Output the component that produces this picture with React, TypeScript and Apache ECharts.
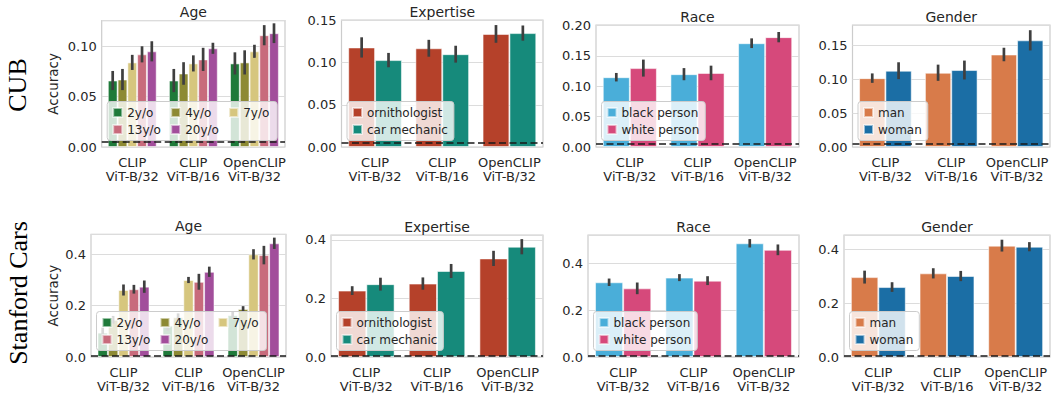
import React, { useEffect, useRef } from "react";
import * as echarts from "echarts";

// ---------- data ----------
const models = ["CLIP\nViT-B/32", "CLIP\nViT-B/16", "OpenCLIP\nViT-B/32"];

const ageGroups = ["2y/o", "4y/o", "7y/o", "13y/o", "20y/o"];
const expertiseGroups = ["ornithologist", "car mechanic"];
const raceGroups = ["black person", "white person"];
const genderGroups = ["man", "woman"];

const ageColors = ["#1f7a3a", "#8d8a34", "#d6c67e", "#c86b7c", "#a24e9b"];
const expertiseColors = ["#b5412a", "#168a7b"];
const raceColors = ["#4aaed9", "#d6497b"];
const genderColors = ["#d87b4a", "#1b6ea5"];

// CUB (rows = groups, columns = models)
const cubAge = [
  [0.066, 0.066, 0.083],
  [0.067, 0.073, 0.084],
  [0.084, 0.083, 0.095],
  [0.092, 0.087, 0.111],
  [0.095, 0.098, 0.113],
];
const cubAgeErr = [
  [0.0095, 0.0115, 0.011],
  [0.0105, 0.0112, 0.012],
  [0.0075, 0.008, 0.0065],
  [0.008, 0.0115, 0.01],
  [0.01, 0.0055, 0.0098],
];
const cubExpertise = [
  [0.118, 0.117, 0.134],
  [0.103, 0.11, 0.135],
];
const cubExpertiseErr = [
  [0.012, 0.01, 0.0105],
  [0.0085, 0.01, 0.009],
];
const cubRace = [
  [0.115, 0.12, 0.171],
  [0.13, 0.122, 0.181],
];
const cubRaceErr = [
  [0.007, 0.01, 0.008],
  [0.014, 0.012, 0.0085],
];
const cubGender = [
  [0.102, 0.11, 0.137],
  [0.113, 0.114, 0.158],
];
const cubGenderErr = [
  [0.007, 0.012, 0.01],
  [0.0125, 0.014, 0.015],
];

// Stanford Cars
const carsAge = [
  [0.095, 0.122, 0.163],
  [0.145, 0.155, 0.187],
  [0.261, 0.3, 0.4],
  [0.264, 0.293, 0.397],
  [0.274, 0.332, 0.443],
];
const carsAgeErr = [
  [0.02, 0.02, 0.015],
  [0.015, 0.015, 0.011],
  [0.0215, 0.012, 0.02],
  [0.017, 0.031, 0.036],
  [0.024, 0.02, 0.022],
];
const carsExpertise = [
  [0.227, 0.251, 0.337],
  [0.249, 0.294, 0.377],
];
const carsExpertiseErr = [
  [0.015, 0.021, 0.026],
  [0.022, 0.024, 0.026],
];
const carsRace = [
  [0.32, 0.34, 0.487],
  [0.294, 0.327, 0.459],
];
const carsRaceErr = [
  [0.016, 0.015, 0.018],
  [0.025, 0.019, 0.023],
];
const carsGender = [
  [0.297, 0.311, 0.414],
  [0.26, 0.301, 0.41],
];
const carsGenderErr = [
  [0.024, 0.019, 0.022],
  [0.018, 0.019, 0.017],
];

const cubChance = 1 / 200;
const carsChance = 1 / 196;

// ---------- layout ----------
const W = 1053;
const H = 395;
const TEXT = "#262626";
const FONT = "DejaVu Sans";

type Panel = {
  title: string;
  groups: string[];
  colors: string[];
  values: number[][];
  errs: number[][];
  chance: number;
  left: number;
  right: number;
  top: number;
  bottom: number;
  max: number;
  interval: number;
  decimals: number;
  isAge: boolean;
};

const panels: Panel[] = [
  { title: "Age", groups: ageGroups, colors: ageColors, values: cubAge, errs: cubAgeErr, chance: cubChance,
    left: 101.7, right: 285, top: 20.7, bottom: 147, max: 0.1254, interval: 0.05, decimals: 2, isAge: true },
  { title: "Expertise", groups: expertiseGroups, colors: expertiseColors, values: cubExpertise, errs: cubExpertiseErr, chance: cubChance,
    left: 341.5, right: 543, top: 20, bottom: 147, max: 0.1505, interval: 0.05, decimals: 2, isAge: false },
  { title: "Race", groups: raceGroups, colors: raceColors, values: cubRace, errs: cubRaceErr, chance: cubChance,
    left: 596, right: 799, top: 25, bottom: 147, max: 0.201, interval: 0.05, decimals: 2, isAge: false },
  { title: "Gender", groups: genderGroups, colors: genderColors, values: cubGender, errs: cubGenderErr, chance: cubChance,
    left: 852.5, right: 1050, top: 25, bottom: 147, max: 0.1807, interval: 0.05, decimals: 2, isAge: false },
  { title: "Age", groups: ageGroups, colors: ageColors, values: carsAge, errs: carsAgeErr, chance: carsChance,
    left: 91, right: 286, top: 234.3, bottom: 357, max: 0.478, interval: 0.2, decimals: 1, isAge: true },
  { title: "Expertise", groups: expertiseGroups, colors: expertiseColors, values: carsExpertise, errs: carsExpertiseErr, chance: carsChance,
    left: 331, right: 543, top: 235, bottom: 357, max: 0.417, interval: 0.2, decimals: 1, isAge: false },
  { title: "Race", groups: raceGroups, colors: raceColors, values: carsRace, errs: carsRaceErr, chance: carsChance,
    left: 588, right: 799, top: 235, bottom: 357, max: 0.5225, interval: 0.2, decimals: 1, isAge: false },
  { title: "Gender", groups: genderGroups, colors: genderColors, values: carsGender, errs: carsGenderErr, chance: carsChance,
    left: 844, right: 1050, top: 235, bottom: 357, max: 0.4535, interval: 0.2, decimals: 1, isAge: false },
];

function buildOption() {
  const grid: any[] = [];
  const xAxis: any[] = [];
  const yAxis: any[] = [];
  const series: any[] = [];
  const legend: any[] = [];
  const graphic: any[] = [];

  panels.forEach((p, g) => {
    grid.push({
      left: p.left,
      top: p.top,
      width: p.right - p.left,
      height: p.bottom - p.top,
      show: true,
      borderColor: "#cccccc",
      borderWidth: 1.2,
      backgroundColor: "transparent",
    });
    xAxis.push({
      type: "category",
      gridIndex: g,
      data: models,
      axisLine: { show: false },
      axisTick: { show: false },
      splitLine: { show: false },
      axisLabel: { interval: 0, fontSize: 13, color: TEXT, lineHeight: 14, margin: 8, fontFamily: FONT },
    });
    yAxis.push({
      type: "value",
      gridIndex: g,
      min: 0,
      max: p.max,
      interval: p.interval,
      axisLine: { show: false },
      axisTick: { show: false },
      splitLine: { lineStyle: { color: "#dcdcdc", width: 1 } },
      axisLabel: {
        fontSize: 13,
        color: TEXT,
        margin: 5,
        showMaxLabel: false,
        fontFamily: FONT,
        formatter: (v: number) => v.toFixed(p.decimals),
      },
    });

    const n = p.groups.length;
    p.groups.forEach((name, k) => {
      series.push({
        type: "bar",
        name,
        xAxisIndex: g,
        yAxisIndex: g,
        data: p.values[k],
        barGap: "0%",
        barCategoryGap: "20%",
        itemStyle: { color: p.colors[k], borderColor: "rgba(255,255,255,0.55)", borderWidth: 1 },
        emphasis: { disabled: true },
        markLine:
          k === 0
            ? {
                silent: true,
                precision: 6,
                symbol: ["none", "none"],
                label: { show: false },
                lineStyle: { type: [7, 3.5], color: "#1a1a1a", width: 1.6 },
                data: [{ yAxis: p.chance }],
              }
            : undefined,
      });
    });
    p.groups.forEach((name, k) => {
      series.push({
        type: "custom",
        xAxisIndex: g,
        yAxisIndex: g,
        silent: true,
        z: 3,
        data: p.values[k].map((v, i) => [i, v - p.errs[k][i], v + p.errs[k][i]]),
        encode: { x: 0, y: [1, 2] },
        renderItem: (params: any, api: any) => {
          const ci = api.value(0);
          const a = api.coord([ci, api.value(1)]);
          const b = api.coord([ci, api.value(2)]);
          const band = api.size([1, 0])[0];
          const off = (-0.4 + (0.8 / n) * (k + 0.5)) * band;
          return {
            type: "line",
            shape: { x1: a[0] + off, y1: a[1], x2: b[0] + off, y2: b[1] },
            style: { stroke: "#3f3f3f", lineWidth: 2.7 },
          };
        },
      });
    });

    legend.push({
      data: p.groups.map((name, k) =>
        p.isAge ? { name, textStyle: { width: k === 2 ? 28 : 38 } } : { name }
      ),
      orient: p.isAge ? "horizontal" : "vertical",
      width: p.isAge ? 160 : undefined,
      left: p.left + 5.5,
      bottom: H - (p.bottom - 6.5),
      icon: "rect",
      itemWidth: 9,
      itemHeight: 9,
      itemGap: 5,
      padding: [5, 6, 5, 5],
      backgroundColor: "rgba(255,255,255,0.8)",
      borderColor: "#cccccc",
      borderWidth: 1,
      borderRadius: 3,
      selectedMode: false,
      textStyle: { fontSize: 12, color: TEXT, lineHeight: 12, fontFamily: FONT },
    });

    graphic.push({
      type: "text",
      x: (p.left + p.right) / 2,
      y: p.top - 8.5,
      style: {
        text: p.title,
        fill: TEXT,
        fontSize: 14,
        fontFamily: FONT,
        textAlign: "center",
        textVerticalAlign: "middle",
        align: "center",
        verticalAlign: "middle",
      },
    });
    if (p.isAge) {
      graphic.push({
        type: "text",
        x: 53,
        y: (p.top + p.bottom) / 2,
        rotation: Math.PI / 2,
        style: {
          text: "Accuracy",
          fill: TEXT,
          fontSize: 13.5,
          fontFamily: FONT,
          textAlign: "center",
          textVerticalAlign: "middle",
          align: "center",
          verticalAlign: "middle",
        },
      });
    }
  });

  const rowLabels = [
    { text: "CUB", x: 17.5, y: 85 },
    { text: "Stanford Cars", x: 18, y: 293 },
  ];
  rowLabels.forEach((r) => {
    graphic.push({
      type: "text",
      x: r.x,
      y: r.y,
      rotation: Math.PI / 2,
      style: {
        text: r.text,
        fill: "#000000",
        fontSize: 26,
        fontFamily: "Liberation Serif",
        textAlign: "center",
        textVerticalAlign: "middle",
        align: "center",
        verticalAlign: "middle",
      },
    });
  });

  return {
    animation: false,
    backgroundColor: "#ffffff",
    textStyle: { fontFamily: FONT },
    grid,
    xAxis,
    yAxis,
    legend,
    series,
    graphic,
  };
}

export default function App() {
  const ref = useRef<HTMLDivElement>(null);
  useEffect(() => {
    if (!ref.current) return;
    const chart = echarts.init(ref.current, undefined, { renderer: "svg" });
    chart.setOption(buildOption() as any);
    return () => chart.dispose();
  }, []);
  return (
    <div
      ref={ref}
      style={{ position: "fixed", left: 0, top: 0, width: W, height: H, background: "#fff" }}
    />
  );
}
